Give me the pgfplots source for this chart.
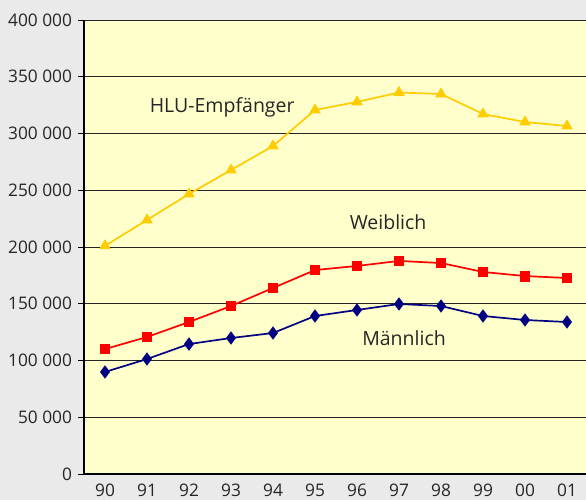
\documentclass[border=0pt]{standalone}
\usepackage{pgfplots}
\pgfplotsset{compat=1.18}
\usepackage{fontspec}
\setmainfont{Open Sans}
\definecolor{outerbg}{HTML}{EAEAEA}
\definecolor{plotbg}{HTML}{FFFFCC}
\definecolor{hlu}{HTML}{FFCC00}
\definecolor{wei}{HTML}{FF0000}
\definecolor{mae}{HTML}{000080}
\begin{document}
\begin{tikzpicture}
\useasboundingbox[fill=outerbg] (0,0) rectangle (586bp,500bp);
\begin{axis}[
  at={(84bp,26bp)}, anchor=south west,
  scale only axis,
  width=504bp, height=454bp,
  xmin=-0.5, xmax=11.5,
  ymin=0, ymax=400000,
  axis background/.style={fill=plotbg},
  axis x line*=bottom, axis y line*=left,
  axis line style={black, line width=1.1pt},
  xtick={0,...,11},
  xticklabels={90,91,92,93,94,95,96,97,98,99,00,01},
  ytick={0,50000,100000,150000,200000,250000,300000,350000,400000},
  yticklabels={0,50 000,100 000,150 000,200 000,250 000,300 000,350 000,400 000},
  scaled y ticks=false,
  ymajorgrids,
  grid style={black!85, line width=0.7pt},
  tick style={black, line width=0.7pt},
  x tick style={draw=none},
  major tick length=6bp,
  tick align=outside,
  ticklabel style={font=\fontsize{17.3bp}{19bp}\selectfont, text=black!85},
  yticklabel style={xshift=-2.5bp},
  xticklabel style={yshift=0bp},
  clip=false,
]
\addplot[hlu, line width=1.7pt, mark=triangle*, mark size=5bp, mark options={fill=hlu, draw=hlu}] coordinates {
(0,201000) (1,223800) (2,246700) (3,267800) (4,289000) (5,320700) (6,327800) (7,336100) (8,334800) (9,317200) (10,310100) (11,306600)
};
\addplot[wei, line width=1.7pt, mark=square*, mark size=4.6bp, mark options={fill=wei, draw=wei}] coordinates {
(0,110100) (1,120700) (2,133900) (3,148000) (4,163900) (5,179700) (6,183300) (7,187700) (8,185900) (9,178000) (10,174400) (11,172700)
};
\addplot[mae, line width=1.7pt, mark=diamond*, mark size=5.3bp, mark options={fill=mae, draw=mae}] coordinates {
(0,89900) (1,101300) (2,114500) (3,119800) (4,124200) (5,139200) (6,144500) (7,149800) (8,148000) (9,139200) (10,135700) (11,133900)
};
\node[font=\fontsize{19.5bp}{22bp}\selectfont, text=black!85] at (axis cs:2.79,323300) {HLU-Empfänger};
\node[font=\fontsize{19.5bp}{22bp}\selectfont, text=black!85] at (axis cs:6.74,222000) {Weiblich};
\node[font=\fontsize{19.5bp}{22bp}\selectfont, text=black!85] at (axis cs:7.12,119800) {Männlich};
\end{axis}
\end{tikzpicture}
\end{document}
